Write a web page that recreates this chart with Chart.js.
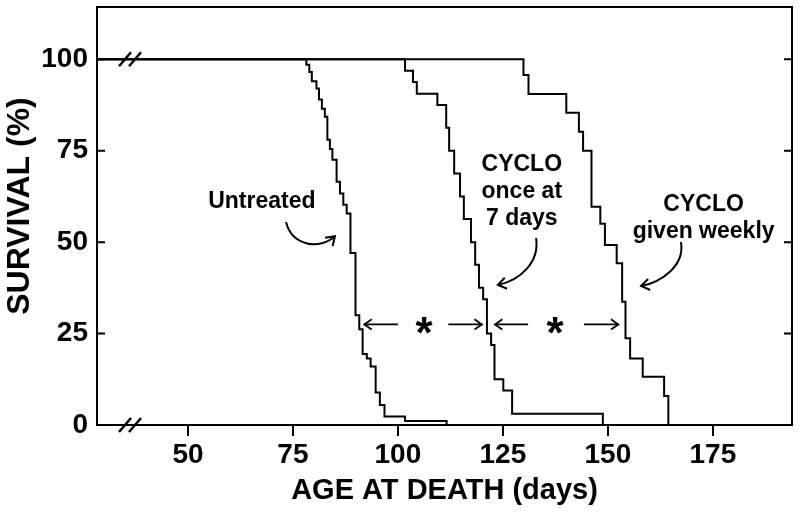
<!DOCTYPE html>
<html><head><meta charset="utf-8">
<script src="https://cdn.jsdelivr.net/npm/chart.js@4.4.0/dist/chart.umd.min.js"></script>
<style>html,body{margin:0;padding:0;background:#fff;}canvas{display:block;}</style>
</head><body>
<canvas id="c" width="800" height="514"></canvas>
<script>
// ---- data (age at death in days, % surviving after each drop) ----
const untreatedDays = [78.2, 78.9, 79.5, 80.6, 81.2, 81.9, 82.6, 83.2, 83.8, 84.4, 85.4, 86.2, 87.0, 87.8, 88.7, 89.9, 90.8, 91.6, 92.6, 93.5, 94.7, 95.7, 96.8, 101.7, 111.6];
const untreatedSurv = [98.5, 96.5, 94.0, 92.0, 89.0, 86.5, 84.3, 78.0, 75.5, 72.5, 66.5, 63.3, 60.2, 57.8, 47.0, 30.0, 26.2, 19.4, 18.2, 16.0, 8.9, 5.5, 2.3, 1.1, 0];
const onceDays = [101.7, 103.6, 104.5, 109.4, 111.5, 112.2, 113.4, 114.8, 115.7, 117.4, 118.4, 119.3, 120.3, 121.2, 122.2, 123.0, 125.1, 127.2, 148.8];
const onceSurv = [96.9, 93.8, 90.6, 87.5, 81.3, 75.0, 68.8, 62.5, 56.3, 50.0, 43.8, 37.5, 34.4, 25.0, 21.9, 12.5, 9.4, 3.1, 0];
const weeklyDays = [129.9, 131.1, 140.1, 143.1, 144.1, 146.1, 148.2, 149.3, 152.1, 153.4, 154.2, 155.3, 158.3, 163.4, 164.4];
const weeklySurv = [95.7, 90.5, 85.4, 80.2, 75.0, 59.7, 55.0, 49.2, 44.2, 33.7, 23.7, 18.2, 13.2, 7.9, 0];
const xTicks = [50, 75, 100, 125, 150, 175];
const yTicks = [0, 25, 50, 75, 100];

const X_MIN = 28.34, X_MAX = 193.85, Y_MIN = 0, Y_MAX = 114.3;
const FONT = '"Liberation Sans", Arial, Helvetica, sans-serif';

function km(days, surv) {
  const pts = [{x: X_MIN, y: 100}];
  days.forEach((d, i) => pts.push({x: d, y: surv[i]}));
  return pts;
}

const deco = {
  id: 'deco',
  afterDraw(chart) {
    const {ctx, chartArea: a, scales: {x, y}} = chart;
    const P = (d, v) => [x.getPixelForValue(d), y.getPixelForValue(v)];
    ctx.save();
    ctx.strokeStyle = '#000'; ctx.fillStyle = '#000'; ctx.lineWidth = 2;
    ctx.beginPath();
    ctx.moveTo(a.left - 1, a.top); ctx.lineTo(a.right, a.top); ctx.lineTo(a.right, a.bottom + 1);
    ctx.stroke();
    yTicks.forEach(v => {
      const py = y.getPixelForValue(v);
      ctx.beginPath();
      ctx.moveTo(a.left, py); ctx.lineTo(a.left + 8, py);
      ctx.moveTo(a.right, py); ctx.lineTo(a.right - 8, py);
      ctx.stroke();
    });
    const brk = (px, py) => {
      ctx.save(); ctx.lineWidth = 2.5;
      [-5, 5].forEach(o => {
        ctx.beginPath(); ctx.moveTo(px + o - 6, py + 7); ctx.lineTo(px + o + 6, py - 7); ctx.stroke();
      });
      ctx.restore();
    };
    const bx = x.getPixelForValue(36.2);
    brk(bx, y.getPixelForValue(100));
    brk(bx, a.bottom);

    const head = (hx, hy, ang, len = 10, spread = 0.6) => {
      ctx.beginPath();
      ctx.moveTo(hx - len * Math.cos(ang - spread), hy - len * Math.sin(ang - spread));
      ctx.lineTo(hx, hy);
      ctx.lineTo(hx - len * Math.cos(ang + spread), hy - len * Math.sin(ang + spread));
      ctx.stroke();
    };
    const curveArrow = (pts) => {
      const [p0, p1, p2, p3] = pts.map(([d, v]) => P(d, v));
      ctx.beginPath(); ctx.moveTo(p0[0], p0[1]);
      ctx.bezierCurveTo(p1[0], p1[1], p2[0], p2[1], p3[0], p3[1]);
      ctx.stroke();
      head(p3[0], p3[1], Math.atan2(p3[1] - p2[1], p3[0] - p2[0]));
    };
    const hArrow = (d0, d1, v) => {
      const [x0, yy] = P(d0, v), [x1] = P(d1, v);
      ctx.beginPath(); ctx.moveTo(x0, yy); ctx.lineTo(x1, yy); ctx.stroke();
      head(x1, yy, x1 > x0 ? 0 : Math.PI, 9, 0.6);
    };
    ctx.lineWidth = 2;
    curveArrow([[73.35, 55.5], [74.8, 48.9], [81.4, 47.8], [85.0, 51.6]]);
    curveArrow([[132.9, 51.1], [133.8, 44.5], [129.1, 39.6], [123.8, 38.3]]);
    curveArrow([[167.4, 50.0], [168.4, 43.7], [162.9, 39.1], [157.9, 38.0]]);
    ctx.lineWidth = 1.8;
    hArrow(100.0, 92.0, 27.5);
    hArrow(112.0, 120.0, 27.5);
    hArrow(131.0, 123.1, 27.5);
    hArrow(144.3, 152.5, 27.5);

    ctx.font = 'bold 44px ' + FONT;
    ctx.textAlign = 'center'; ctx.textBaseline = 'alphabetic';
    const star = (d, v) => {
      const [px, py] = P(d, v);
      const m = ctx.measureText('*');
      ctx.fillText('*', px, py + (m.actualBoundingBoxAscent - m.actualBoundingBoxDescent) / 2);
    };
    star(106.2, 27.2);
    star(137.4, 27.2);

    ctx.font = 'bold 23px ' + FONT;
    const txt = (s, d, v) => { const [px, py] = P(d, v); ctx.fillText(s, px, py); };
    txt('Untreated', 67.6, 59.3);
    txt('CYCLO', 129.5, 69.4);
    txt('once at', 129.5, 62.0);
    txt('7 days', 129.5, 54.6);
    txt('CYCLO', 172.8, 58.5);
    txt('given weekly', 172.8, 51.1);

    ctx.save();
    ctx.font = 'bold 32px ' + FONT;
    ctx.translate(20, 206); ctx.rotate(-Math.PI / 2);
    ctx.textBaseline = 'middle';
    ctx.fillText('SURVIVAL (%)', 0, 0);
    ctx.restore();
    ctx.restore();
  }
};

const lineStyle = {borderColor: '#000', borderWidth: 2, pointRadius: 0, stepped: 'before', fill: false, tension: 0};

new Chart(document.getElementById('c'), {
  type: 'line',
  data: {
    datasets: [
      Object.assign({label: 'Untreated', data: km(untreatedDays, untreatedSurv)}, lineStyle),
      Object.assign({label: 'CYCLO once at 7 days', data: km(onceDays, onceSurv)}, lineStyle),
      Object.assign({label: 'CYCLO given weekly', data: km(weeklyDays, weeklySurv)}, lineStyle)
    ]
  },
  options: {
    responsive: false,
    animation: false,
    devicePixelRatio: 1,
    layout: {padding: {left: 0, right: 8, top: 7, bottom: 0}},
    plugins: {legend: {display: false}, tooltip: {enabled: false}},
    scales: {
      x: {
        type: 'linear', position: 'bottom', min: X_MIN, max: X_MAX,
        afterBuildTicks: s => { s.ticks = xTicks.map(v => ({value: v})); },
        afterFit: s => { s.height = 89; s.paddingLeft = 0; s.paddingRight = 0; },
        grid: {drawOnChartArea: false, drawTicks: true, tickLength: 11, color: '#000', lineWidth: 2},
        border: {display: true, color: '#000', width: 2},
        ticks: {color: '#000', font: {family: FONT, size: 28, weight: 'bold'}, padding: 2, maxRotation: 0},
        title: {display: true, text: 'AGE AT DEATH (days)', color: '#000', font: {family: FONT, size: 29, weight: 'bold'}, padding: {top: 0, bottom: 6}}
      },
      y: {
        type: 'linear', min: Y_MIN, max: Y_MAX,
        afterBuildTicks: s => { s.ticks = yTicks.map(v => ({value: v})); },
        afterFit: s => { s.width = 97; s.paddingTop = 0; s.paddingBottom = 0; },
        grid: {drawOnChartArea: false, drawTicks: false, color: '#000'},
        border: {display: true, color: '#000', width: 2},
        ticks: {color: '#000', font: {family: FONT, size: 28, weight: 'bold'}, padding: 9}
      }
    }
  },
  plugins: [deco]
});
</script>
</body></html>
